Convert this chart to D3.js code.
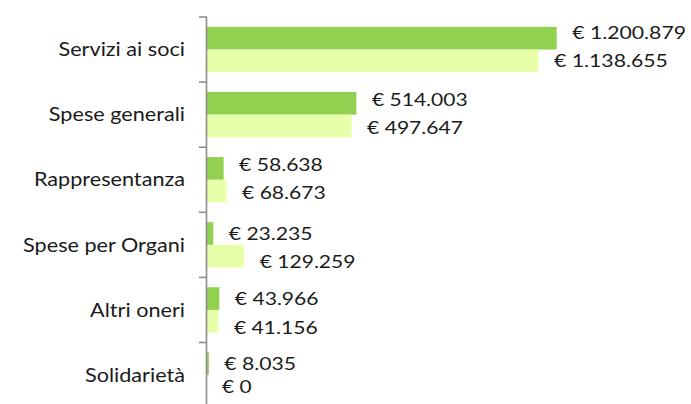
<!DOCTYPE html>
<html>
<head>
<meta charset="utf-8">
<script src="https://cdn.jsdelivr.net/npm/d3@7"></script>
<style>
  html, body { margin: 0; padding: 0; background: #fff; }
  svg { display: block; }
  text { font-family: Lato, "Open Sans", sans-serif; fill: #1a1a1a; }
</style>
</head>
<body>
<svg id="chart" width="691" height="404"></svg>
<script>
const categories = ["Servizi ai soci", "Spese generali", "Rappresentanza", "Spese per Organi", "Altri oneri", "Solidarietà"];
const seriesNames = ["Anno corrente", "Anno precedente"];
const seriesA = [1200879, 514003, 58638, 23235, 43966, 8035];
const seriesB = [1138655, 497647, 68673, 129259, 41156, 0];
const colors = ["#92D050", "#E8FFAA"];

const fmt = v => "€ " + d3.format(",")(v).replace(/,/g, ".");

const svg = d3.select("#chart");
const W = 691, H = 404;
const axisX = 206.5;
const plotTop = 17, step = 65.1;

const y = d3.scaleBand().domain(categories).range([plotTop, plotTop + step * categories.length]).padding(0);
const yInner = d3.scaleBand().domain(seriesNames).range([0, y.bandwidth()]).paddingInner(0).paddingOuter(0.434);
const x = d3.scaleLinear().domain([0, 1400000]).range([axisX, axisX + 1400000 * 0.0002916]);

// bars
const data = categories.map((c, i) => ({ cat: c, i, vals: [seriesA[i], seriesB[i]] }));
const groups = svg.append("g").selectAll("g").data(data).join("g")
  .attr("transform", d => `translate(0,${y(d.cat)})`);

groups.selectAll("rect").data(d => d.vals.map((v, k) => ({ v, k, i: d.i })))
  .join("rect")
  .attr("x", x(0))
  .attr("y", d => yInner(seriesNames[d.k]))
  .attr("width", d => x(d.v) - x(0))
  .attr("height", yInner.bandwidth())
  .attr("fill", d => colors[d.k]);

// emulate tabular-figure label widths (em units) of the original font
const emW = ch => (ch === " " ? 0.226 : ch === "." ? 0.252 : 0.507);
const targetWidth = s => Array.from(s).reduce((a, c) => a + emW(c), 0) * 20 * 1.19;

// value labels (small nudges as in the original label placement)
const nudge = [[-5.5, 0], [-4, 2], [-4, 1], [0, 5.5], [0, 6], [0, 0]];
groups.selectAll("text.val").data(d => d.vals.map((v, k) => ({ v, k, i: d.i })))
  .join("text")
  .attr("class", "val")
  .attr("dy", "0.36em")
  .attr("font-size", 18)
  .text(d => fmt(d.v))
  .each(function(d) {
    const len = this.getComputedTextLength() || 1;
    const sx = targetWidth(fmt(d.v)) / len;
    d3.select(this).attr("transform",
      `translate(${x(d.v) + 15.5},${yInner(seriesNames[d.k]) + yInner.bandwidth() / 2 + nudge[d.i][d.k]}) scale(${sx},1)`);
  });

// axis line
const axisG = svg.append("g").attr("stroke", "#8c8c8c").attr("stroke-width", 1.6);
axisG.append("line").attr("x1", axisX).attr("x2", axisX).attr("y1", plotTop - 0.5).attr("y2", H);
axisG.selectAll("line.tick").data(categories).join("line")
  .attr("class", "tick")
  .attr("x1", axisX - 7.5).attr("x2", axisX)
  .attr("y1", d => y(d)).attr("y2", d => y(d));

// category labels
svg.append("g").selectAll("text").data(categories).join("text")
  .attr("transform", d => `translate(185,${y(d) + y.bandwidth() / 2}) scale(1.17,1)`)
  .attr("text-anchor", "end")
  .attr("dy", "0.36em")
  .attr("font-size", 18.5)
  .text(d => d);
</script>
</body>
</html>
